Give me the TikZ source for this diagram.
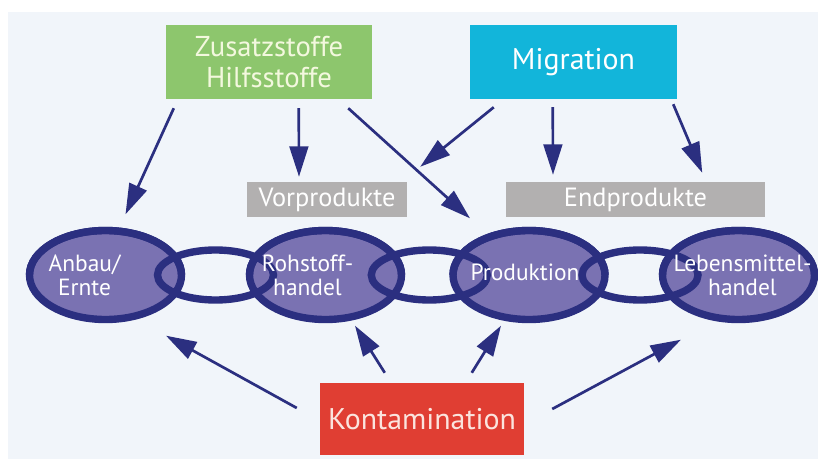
\documentclass[tikz,border=0pt]{standalone}
\usepackage{fontspec}
\setmainfont{PT Sans}
\usepackage{xcolor}
\usepackage{tikz}
\usetikzlibrary{shapes.geometric, arrows.meta, calc}

\definecolor{bgblue}{HTML}{F1F5FA}
\definecolor{navy}{HTML}{2B2F80}
\definecolor{ringfill}{HTML}{7A72B2}
\definecolor{boxgreen}{HTML}{8DC66D}
\definecolor{boxcyan}{HTML}{12B5DA}
\definecolor{boxgray}{HTML}{B2B0B0}
\definecolor{boxred}{HTML}{E03E33}
\definecolor{greentext}{HTML}{F3F8DE}
\definecolor{redtext}{HTML}{FBE4DE}

\begin{document}
\begin{tikzpicture}[x=0.03cm, y=-0.03cm]
\tikzstyle{box} = [rectangle, inner sep=0pt, text centered, align=center]
\tikzstyle{ring} = [ellipse, minimum width=4.56cm, minimum height=2.67cm, inner sep=0pt, draw=navy, line width=6.3pt, fill=ringfill]
\tikzstyle{link} = [ellipse, minimum width=3.48cm, minimum height=1.5cm, inner sep=0pt, draw=navy, line width=6.3pt]
\tikzstyle{ringtext} = [text=white, align=center, font=\fontsize{20}{20.5}\selectfont]
\tikzstyle{arrow} = [line width=2.3pt, draw=navy, -{Triangle[length=26pt, width=16pt]}]

\useasboundingbox (0,0) rectangle (818,459);
\fill[bgblue] (8,12) rectangle (818,459);

% Sources
\node (zus) [box, fill=boxgreen, minimum width=6.18cm, minimum height=2.22cm, text=greentext, font=\fontsize{24.5}{26.5}\selectfont] at (269,62) {Zusatzstoffe\\Hilfsstoffe};
\node (mig) [box, fill=boxcyan, minimum width=6.21cm, minimum height=2.22cm, text=white, font=\fontsize{25.5}{27}\selectfont] at (573.5,62) {Migration};
\node (kon) [box, fill=boxred, minimum width=6.12cm, minimum height=2.16cm, text=redtext, font=\fontsize{25.5}{30}\selectfont] at (422,419) {Kontamination};

% Products
\node (vor) [box, fill=boxgray, minimum width=4.8cm, minimum height=1.05cm, text=white, font=\fontsize{22.5}{24}\selectfont] at (327,199.5) {Vorprodukte};
\node (endp) [box, fill=boxgray, minimum width=7.77cm, minimum height=1.05cm, text=white, font=\fontsize{22.5}{24}\selectfont] at (635.5,199.5) {Endprodukte};

% Chain
\node (anbau) [ring] at (105.5,275) {};
\node (roh) [ring] at (325.5,275) {};
\node (prod) [ring] at (529,275) {};
\node (leb) [ring] at (738.5,275) {};
\node (l1) [link] at ($(anbau)!0.5!(roh)$) {};
\node (l2) [link] at ($(roh)!0.51!(prod)$) {};
\node (l3) [link] at ($(prod)!0.53!(leb)$) {};
\begin{scope}
\clip (0,0) rectangle (818,275);
\foreach \r in {anbau, roh, prod, leb}
  \node [ring, fill=none] at (\r) {};
\end{scope}

\node [ringtext] at ($(anbau)+(-21,0)$) {Anbau/\\Ernte};
\node [ringtext] at ($(roh)+(-18,0)$) {Rohstoff-\\handel};
\node [ringtext] at ($(prod)+(-4,-3)$) {Produktion};
\node [ringtext] at ($(leb)+(4,0)$) {Lebensmittel-\\handel};

% Connections
\draw [arrow] ($(zus.south west)+(8,9)$) -- ($(anbau.north)+(20,-12.5)$);
\draw [arrow] ($(zus.south west)+(133,9)$) -- ($(vor.north)+(-28,-5)$);
\draw [arrow] ($(zus.south east)+(-24,9)$) -- ($(prod.north)+(-59,-8.5)$);
\draw [arrow] ($(mig.south west)+(24,8)$) -- ($(vor.north east)+(13,-15)$);
\draw [arrow] ($(mig.south west)+(83,8)$) -- ($(endp.north)+(-82.5,-7)$);
\draw [arrow] ($(mig.south east)+(-4,5)$) -- ($(endp.north east)+(-63,-9)$);
\draw [arrow] ($(kon.west)+(-23,-11)$) -- ($(anbau.south)+(60.5,12.5)$);
\draw [arrow] ($(kon.north west)+(65,-10)$) -- ($(roh.south)+(29.5,2.5)$);
\draw [arrow] ($(kon.north west)+(152,-10)$) -- ($(prod.south)+(-28,2.5)$);
\draw [arrow] ($(kon.east)+(28,-10)$) -- ($(leb.south)+(-57.5,16.5)$);

\end{tikzpicture}
\end{document}
